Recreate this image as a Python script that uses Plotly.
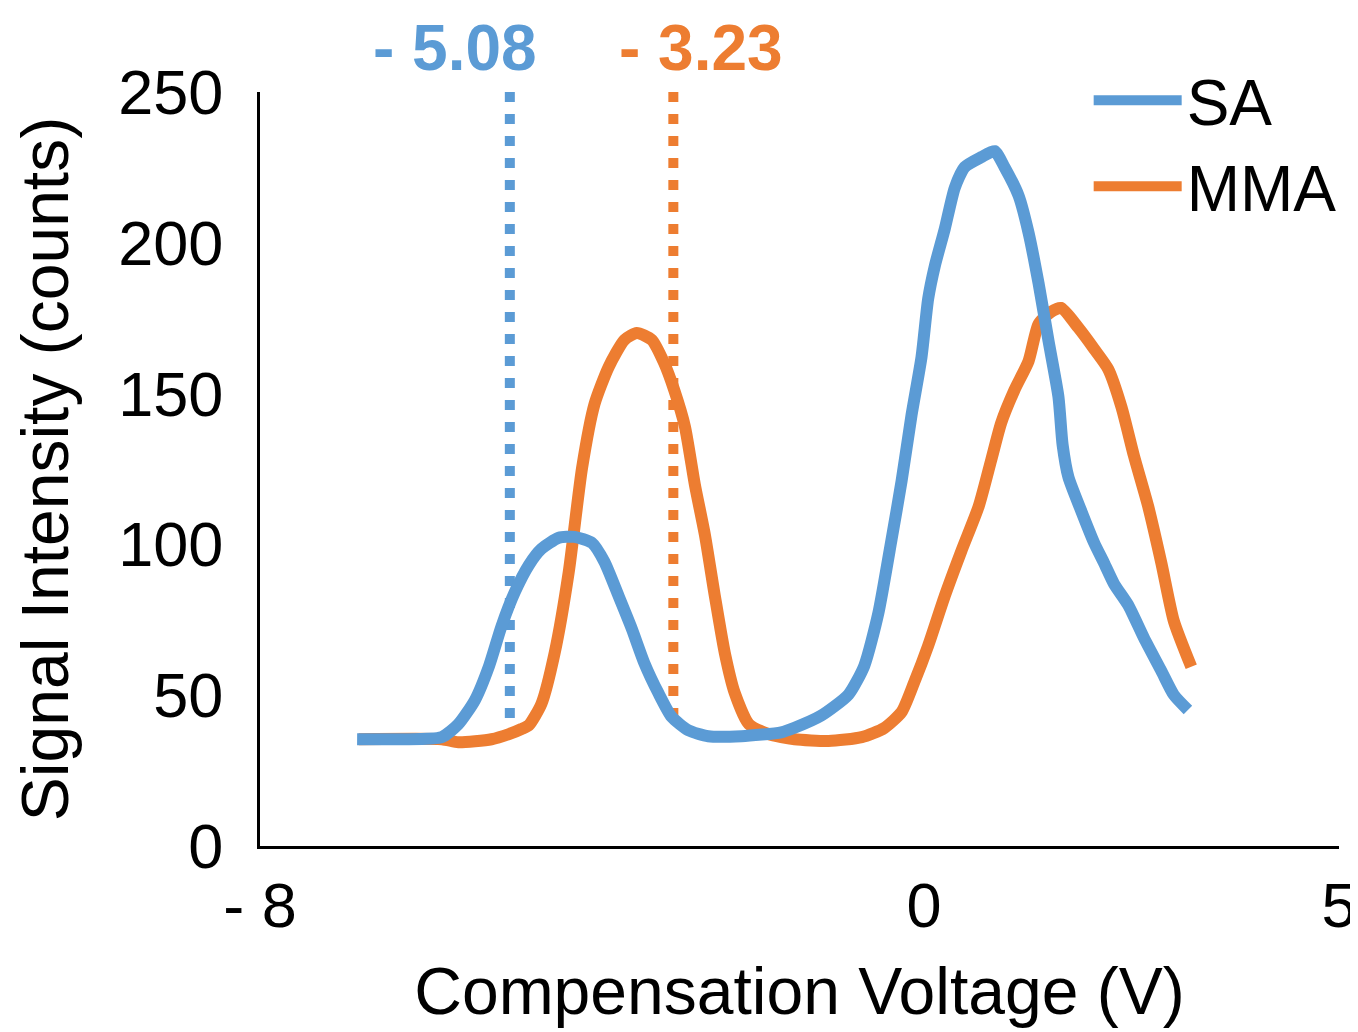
import plotly.graph_objects as go

# ---- data ----
sa_cv = [-6.83, -6.29, -5.81, -5.61, -5.41, -5.24, -5.09, -4.93, -4.76, -4.61, -4.40, -4.21,
         -4.00, -3.85, -3.68, -3.52, -3.37, -3.20, -3.04, -2.84, -2.60, -2.20, -1.72, -1.56,
         -1.24, -0.91, -0.72, -0.55, -0.39, -0.27, -0.15, -0.03, 0.05, 0.13, 0.25, 0.37,
         0.49, 0.69, 0.85, 0.97, 1.14, 1.26, 1.38, 1.50, 1.62, 1.67, 1.74, 1.89, 2.05,
         2.17, 2.29, 2.46, 2.65, 2.86, 3.01, 3.18]
sa_signal = [35.4, 35.4, 36.1, 40.4, 48.4, 59.7, 72.9, 84.2, 93.2, 98.5, 102.2, 102.5,
             100.5, 94.2, 82.9, 72.0, 60.7, 50.7, 42.8, 38.4, 36.4, 36.4, 37.7, 39.2,
             43.2, 50.2, 59.7, 77.2, 101.8, 121.0, 142.9, 162.1, 181.4, 192.3, 204.6, 218.2,
             225.1, 228.4, 230.4, 225.1, 215.6, 203.3, 186.6, 167.5, 148.9, 133.0, 122.3, 111.4, 100.5,
             93.8, 86.9, 79.9, 69.0, 58.0, 50.1, 45.1]

mma_cv = [-6.81, -5.81, -5.61, -5.21, -5.00, -4.85, -4.76, -4.61, -4.45, -4.28, -4.12, -3.97,
          -3.80, -3.61, -3.46, -3.28, -3.13, -3.01, -2.88, -2.76, -2.64, -2.52, -2.40, -2.28,
          -2.11, -1.87, -1.72, -1.56, -1.15, -0.75, -0.48, -0.27, -0.12, 0.05, 0.25, 0.45,
          0.66, 0.81, 0.93, 1.09, 1.26, 1.38, 1.53, 1.65, 1.86, 2.05, 2.22, 2.38, 2.53,
          2.70, 2.86, 3.01, 3.22]
mma_signal = [35.4, 35.4, 34.4, 35.4, 37.1, 38.8, 40.1, 47.1, 64.0, 90.9, 125.3, 146.5,
              158.8, 167.8, 170.1, 167.8, 160.1, 151.2, 139.0, 119.7, 103.2, 82.9, 64.0, 50.7,
              40.4, 37.1, 36.1, 35.4, 34.8, 36.1, 39.1, 44.4, 54.1, 66.4, 82.9, 97.8,
              112.7, 128.0, 140.3, 151.2, 160.8, 173.1, 177.1, 178.4, 171.8, 164.8, 158.1, 145.5, 129.3,
              112.7, 93.8, 74.6, 59.4]

series_names = ["SA", "MMA"]
series_colors = ["#5B9BD5", "#ED7D31"]

# marker (dotted) lines and their labels
marker_cv = [-4.99, -3.02]
marker_top = [250, 250]
marker_bottom = [37, 40]
marker_labels = ["- 5.08", "- 3.23"]
marker_label_cv = [-5.65, -2.69]

x_tickvals = [-8, 0, 5]
x_ticktext = ["- 8", "0", "5"]
y_tickvals = [0, 50, 100, 150, 200, 250]

FONT = "Liberation Sans, Arial, sans-serif"

fig = go.Figure()

# dotted marker lines (drawn beneath the curves), drawn top -> bottom
for cv, y1, y0, col in zip(marker_cv, marker_top, marker_bottom, series_colors):
    fig.add_trace(go.Scatter(
        x=[cv, cv], y=[y1, y0], mode="lines",
        line=dict(color=col, width=10, dash="10px,12px"),
        showlegend=False, hoverinfo="skip"))

# MMA first so SA is drawn on top
fig.add_trace(go.Scatter(
    x=mma_cv, y=mma_signal, mode="lines", name=series_names[1],
    line=dict(color=series_colors[1], width=12, shape="spline", smoothing=0.6),
    legendrank=2))
fig.add_trace(go.Scatter(
    x=sa_cv, y=sa_signal, mode="lines", name=series_names[0],
    line=dict(color=series_colors[0], width=12, shape="spline", smoothing=0.6),
    legendrank=1))

for txt, xpos, col in zip(marker_labels, marker_label_cv, series_colors):
    fig.add_annotation(
        x=xpos, xref="x", y=1.0584, yref="paper", text="<b>%s</b>" % txt,
        showarrow=False, xanchor="center", yanchor="middle",
        font=dict(family=FONT, size=64, color=col))

# page body has an 8px default margin, so the figure is 8px smaller each way
fig.update_layout(
    width=1350, height=1024,
    margin=dict(l=252, r=19, t=84, b=186, autoexpand=False),
    paper_bgcolor="white", plot_bgcolor="white",
    font=dict(family=FONT, size=62, color="black"),
    showlegend=True,
    legend=dict(
        x=0.768, y=1.053, xanchor="left", yanchor="top",
        bgcolor="rgba(0,0,0,0)", font=dict(family=FONT, size=64, color="black"),
        itemwidth=88, tracegroupgap=0, traceorder="normal"),
    xaxis=dict(
        range=[-8, 5], tickvals=x_tickvals, ticktext=x_ticktext,
        showline=True, linecolor="black", linewidth=3, mirror=False,
        showgrid=False, zeroline=False, ticks="", ticklabelstandoff=2,
        automargin=False,
        tickfont=dict(family=FONT, size=63, color="black"),
        title=dict(text="Compensation Voltage (V)", standoff=30,
                   font=dict(family=FONT, size=66, color="black"))),
    yaxis=dict(
        range=[0, 250], tickvals=y_tickvals,
        showline=True, linecolor="black", linewidth=3,
        showgrid=False, zeroline=False, ticks="", ticklabelstandoff=21,
        automargin=False,
        tickfont=dict(family=FONT, size=63, color="black"),
        title=dict(text="Signal Intensity (counts)", standoff=35,
                   font=dict(family=FONT, size=66, color="black"))),
)

fig.write_html("out.html")
